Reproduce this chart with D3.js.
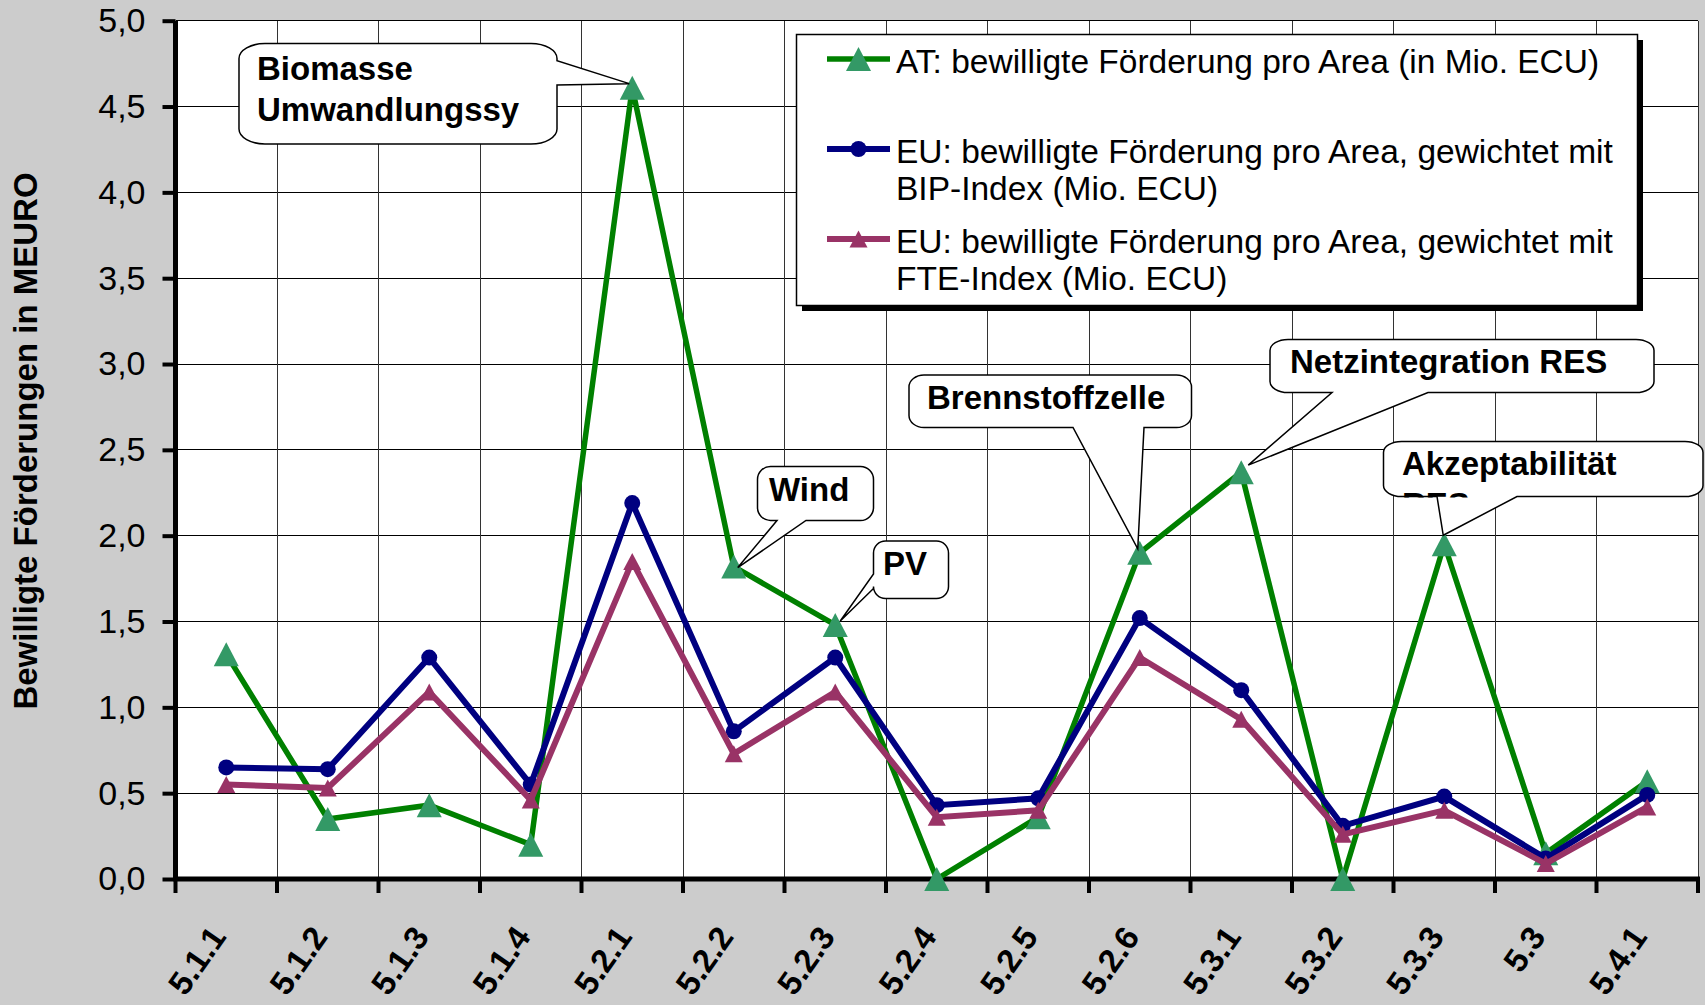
<!DOCTYPE html>
<html>
<head>
<meta charset="utf-8">
<script src="https://cdn.jsdelivr.net/npm/d3@7"></script>
<style>
  body { margin: 0; background: #cccccc; }
  svg { display: block; font-family: "Liberation Sans", Arial, sans-serif; }
</style>
</head>
<body>
<svg id="chart" width="1705" height="1005"></svg>
<script>
// data
const categories = ["5.1.1","5.1.2","5.1.3","5.1.4","5.2.1","5.2.2","5.2.3","5.2.4","5.2.5","5.2.6","5.3.1","5.3.2","5.3.3","5.3","5.4.1"]
const atValues    = [1.31, 0.35, 0.43, 0.20, 4.61, 1.82, 1.48, 0.00, 0.36, 1.90, 2.37, 0.00, 1.95, 0.15, 0.57]
const euBipValues = [0.65, 0.64, 1.29, 0.55, 2.19, 0.86, 1.29, 0.43, 0.47, 1.52, 1.10, 0.31, 0.48, 0.12, 0.49]
const euFteValues = [0.55, 0.53, 1.09, 0.46, 1.85, 0.73, 1.09, 0.36, 0.40, 1.29, 0.93, 0.26, 0.40, 0.09, 0.42]
const yTicks = [0, 0.5, 1, 1.5, 2, 2.5, 3, 3.5, 4, 4.5, 5]
const seriesNames = [
  ["AT: bewilligte Förderung pro Area (in Mio. ECU)"],
  ["EU: bewilligte Förderung pro Area, gewichtet mit", "BIP-Index (Mio. ECU)"],
  ["EU: bewilligte Förderung pro Area, gewichtet mit", "FTE-Index (Mio. ECU)"]
]
const yTitle = "Bewilligte Förderungen in MEURO"
const calloutLabels = [
  { cat: "5.2.1", lines: ["Biomasse", "Umwandlungssy"] },
  { cat: "5.2.2", lines: ["Wind"] },
  { cat: "5.2.3", lines: ["PV"] },
  { cat: "5.2.6", lines: ["Brennstoffzelle"] },
  { cat: "5.3.1", lines: ["Netzintegration RES"] },
  { cat: "5.3.3", lines: ["Akzeptabilität", "RES"] }
]

const svg = d3.select("#chart")
const x = d3.scaleBand().domain(categories).range([175.5, 1698])
const y = d3.scaleLinear().domain([0, 5]).range([879, 20.7])
const cx = c => x(c) + x.bandwidth() / 2
const fmt = d => d.toFixed(1).replace(".", ",")

// plot area
svg.append("rect")
  .attr("x", x.range()[0]).attr("y", y(5))
  .attr("width", x.range()[1] - x.range()[0]).attr("height", y(0) - y(5))
  .attr("fill", "white")

// grid
const bounds = categories.map(c => x(c)).concat([x.range()[1]])
svg.append("g").selectAll("line").data(yTicks.slice(1)).join("line")
  .attr("x1", x.range()[0]).attr("x2", x.range()[1])
  .attr("y1", d => y(d)).attr("y2", d => y(d))
  .attr("stroke", "#000").attr("stroke-width", 1).attr("shape-rendering", "crispEdges")
svg.append("g").selectAll("line").data(bounds.slice(1)).join("line")
  .attr("x1", d => d).attr("x2", d => d)
  .attr("y1", y(5)).attr("y2", y(0))
  .attr("stroke", "#333").attr("stroke-width", 1).attr("shape-rendering", "crispEdges")

// y axis
const yAxis = svg.append("g")
  .attr("transform", `translate(${x.range()[0]},0)`)
  .call(d3.axisLeft(y).tickValues(yTicks).tickFormat(fmt).tickSize(13).tickPadding(17))
yAxis.select(".domain").attr("stroke-width", 5).attr("d", `M0,${y(0) + 2}V${y(5)}`)
yAxis.selectAll(".tick line").attr("stroke-width", 4)
yAxis.selectAll(".tick text")
  .attr("font-size", 34).attr("font-family", "Liberation Sans, Arial, sans-serif").attr("fill", "#000")

// x axis
svg.append("line")
  .attr("x1", x.range()[0] - 2).attr("x2", x.range()[1] + 2)
  .attr("y1", y(0)).attr("y2", y(0))
  .attr("stroke", "#000").attr("stroke-width", 5)
svg.append("g").selectAll("line").data(bounds).join("line")
  .attr("x1", d => d).attr("x2", d => d)
  .attr("y1", y(0)).attr("y2", y(0) + 14)
  .attr("stroke", "#000").attr("stroke-width", 4)
svg.append("g").selectAll("text").data(categories).join("text")
  .attr("transform", d => `translate(${cx(d) + 1},${y(0) + 58}) rotate(-55)`)
  .attr("text-anchor", "end")
  .attr("font-size", 33).attr("font-weight", "bold")
  .text(d => d)

// y title
svg.append("text")
  .attr("transform", `translate(37,441) rotate(-90)`)
  .attr("text-anchor", "middle")
  .attr("font-size", 33).attr("font-weight", "bold")
  .text(yTitle)

// series
const series = [
  { values: atValues, line: "#008000", marker: "#339966", shape: "tri", w: 25, h: 24, lw: 5.5 },
  { values: euBipValues, line: "#000080", marker: "#000080", shape: "circle", w: 16, h: 16, lw: 6 },
  { values: euFteValues, line: "#993366", marker: "#993366", shape: "tri", w: 18, h: 17, lw: 6 }
]
const markerPath = (s, px, py) => s.shape === "tri"
  ? `M${px},${py - s.h / 2}L${px + s.w / 2},${py + s.h / 2}L${px - s.w / 2},${py + s.h / 2}Z`
  : `M${px - s.w / 2},${py}a${s.w / 2},${s.h / 2} 0 1,0 ${s.w},0a${s.w / 2},${s.h / 2} 0 1,0 ${-s.w},0Z`

const line = d3.line().x((d, i) => cx(categories[i])).y(d => y(d))
series.forEach(s => {
  const g = svg.append("g")
  g.append("path").attr("d", line(s.values))
    .attr("fill", "none").attr("stroke", s.line).attr("stroke-width", s.lw).attr("stroke-linejoin", "miter")
  g.selectAll("path.m").data(s.values).join("path").attr("class", "m")
    .attr("d", (d, i) => markerPath(s, cx(categories[i]), y(d)))
    .attr("fill", s.marker)
})

// legend
const lg = svg.append("g")
lg.append("rect").attr("x", 802).attr("y", 40).attr("width", 841).attr("height", 271).attr("fill", "#000")
lg.append("rect").attr("x", 796.5).attr("y", 34.5).attr("width", 841).attr("height", 271)
  .attr("fill", "white").attr("stroke", "#000").attr("stroke-width", 1.5)
const legendY = [59, 149, 239]
series.forEach((s, i) => {
  const ly = legendY[i]
  lg.append("line").attr("x1", 827).attr("x2", 890).attr("y1", ly).attr("y2", ly)
    .attr("stroke", s.line).attr("stroke-width", s.lw)
  lg.append("path").attr("d", markerPath(s, 858.5, ly)).attr("fill", s.marker)
  seriesNames[i].forEach((t, j) => {
    lg.append("text").attr("x", 896).attr("y", ly + 14 + j * 37)
      .attr("font-size", 33.5).text(t)
  })
})

// callouts (box layout in px, tip on the AT point)
const boxes = [
  { x0: 239, y0: 43.5, x1: 557, y1: 144, rx: 26, ry: 15, side: "right", a: 60.7, b: 85, dx: -3, dy: -4, tx: 257, ty: 80, lh: 41 },
  { x0: 757.5, y0: 466.5, x1: 873.5, y1: 520.5, rx: 13, ry: 13, side: "bottom", a: 777, b: 806, dx: 4, dy: 1, tx: 769, ty: 501, lh: 41 },
  { x0: 873.5, y0: 541, x1: 948.5, y1: 598.5, rx: 12, ry: 12, side: "left", a: 574, b: 588.5, dx: 5, dy: -4, tx: 883, ty: 575, lh: 41 },
  { x0: 909, y0: 375, x1: 1191.5, y1: 427.5, rx: 15, ry: 12, side: "bottom", a: 1073, b: 1144, dx: -2, dy: -4, tx: 927, ty: 409, lh: 41 },
  { x0: 1270, y0: 339.5, x1: 1654, y1: 392.5, rx: 18, ry: 11, side: "bottom", a: 1332, b: 1428, dx: 7, dy: -7, tx: 1290, ty: 373, lh: 41 },
  { x0: 1383.5, y0: 441.5, x1: 1703, y1: 496.5, rx: 18, ry: 11, side: "bottom", a: 1437, b: 1517, dx: -1, dy: -9, tx: 1402, ty: 475, lh: 41 }
]
const calloutPath = (b, tip) => {
  const p = d3.path()
  p.moveTo(b.x0 + b.rx, b.y0)
  p.lineTo(b.x1 - b.rx, b.y0)
  p.bezierCurveTo(b.x1 - b.rx * 0.45, b.y0, b.x1, b.y0 + b.ry * 0.45, b.x1, b.y0 + b.ry)
  if (b.side === "right") { p.lineTo(b.x1, b.a); p.lineTo(tip[0], tip[1]); p.lineTo(b.x1, b.b) }
  p.lineTo(b.x1, b.y1 - b.ry)
  p.bezierCurveTo(b.x1, b.y1 - b.ry * 0.45, b.x1 - b.rx * 0.45, b.y1, b.x1 - b.rx, b.y1)
  if (b.side === "bottom") { p.lineTo(b.b, b.y1); p.lineTo(tip[0], tip[1]); p.lineTo(b.a, b.y1) }
  p.lineTo(b.x0 + b.rx, b.y1)
  p.bezierCurveTo(b.x0 + b.rx * 0.45, b.y1, b.x0, b.y1 - b.ry * 0.45, b.x0, b.y1 - b.ry)
  if (b.side === "left") { p.lineTo(b.x0, b.b); p.lineTo(tip[0], tip[1]); p.lineTo(b.x0, b.a) }
  p.lineTo(b.x0, b.y0 + b.ry)
  p.bezierCurveTo(b.x0, b.y0 + b.ry * 0.45, b.x0 + b.rx * 0.45, b.y0, b.x0 + b.rx, b.y0)
  p.closePath()
  return p.toString()
}
const defs = svg.append("defs")
calloutLabels.forEach((c, i) => {
  const b = boxes[i]
  const k = categories.indexOf(c.cat)
  const tip = [cx(c.cat) + b.dx, y(atValues[k]) + b.dy]
  defs.append("clipPath").attr("id", "clip" + i)
    .append("rect").attr("x", b.x0).attr("y", b.y0).attr("width", b.x1 - b.x0).attr("height", b.y1 - b.y0 + 1)
  const g = svg.append("g")
  g.append("path").attr("d", calloutPath(b, tip))
    .attr("fill", "white").attr("stroke", "#000").attr("stroke-width", 1.5)
  const tg = g.append("g").attr("clip-path", `url(#clip${i})`)
  c.lines.forEach((t, j) => {
    tg.append("text").attr("x", b.tx).attr("y", b.ty + j * b.lh)
      .attr("font-size", 33).attr("font-weight", "bold").text(t)
  })
})
</script>
</body>
</html>
